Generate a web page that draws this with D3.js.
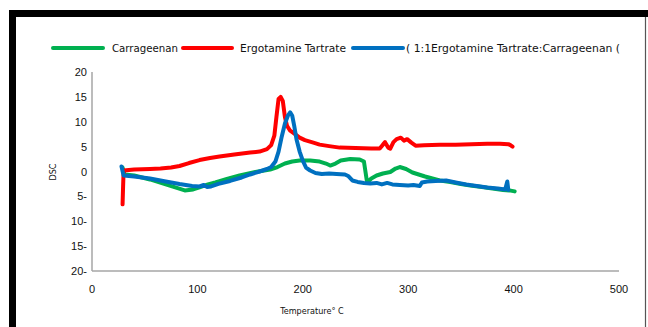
<!DOCTYPE html>
<html><head><meta charset="utf-8">
<script src="https://cdn.jsdelivr.net/npm/d3@7"></script>
<style>body{margin:0;background:#fff}svg{display:block}</style>
</head><body>
<svg id="c" width="648" height="327"></svg>
<script>
const xTicks = [0,100,200,300,400,500];
const yTicks = [20,15,10,5,0,-5,-10,-15,-20];
const yTickLabels = ["20","15","10","5","0","5-","10-","15-","20-"];
const seriesNames = ["Carrageenan","Ergotamine Tartrate","( 1:1Ergotamine Tartrate:Carrageenan  ("];
const seriesColors = ["#00b050","#ff0000","#0070c0"];

const carrageenan = [[29,0.8],[31,-0.6],[40,-0.8],[55,-1.6],[70,-2.6],[79,-3.2],[88,-3.8],[96,-3.6],[102,-3.2],[110,-2.6],[117,-2.2],[128,-1.5],[140,-0.8],[155,-0.1],[169,0.4],[176,0.9],[183,1.6],[190,2.0],[197,2.2],[207,2.2],[216,2.0],[222,1.6],[226,1.2],[231,1.6],[236,2.2],[245,2.5],[254,2.4],[258,2.0],[259,0.6],[261,-2.2],[265,-1.4],[270,-0.8],[276,-0.4],[283,-0.1],[288,0.6],[292,0.9],[298,0.5],[304,-0.2],[310,-0.6],[316,-1.0],[323,-1.4],[330,-1.8],[340,-2.1],[350,-2.5],[359,-2.8],[370,-3.1],[380,-3.4],[390,-3.7],[396,-3.8],[401,-4.0]];
const ergotamine = [[29,-6.6],[29.5,-3],[30,0.2],[40,0.4],[55,0.5],[65,0.6],[75,0.8],[83,1.1],[92,1.7],[102,2.3],[112,2.7],[121,3.0],[135,3.4],[150,3.8],[159,4.0],[166,4.5],[170,5.3],[173,7.2],[175,11],[177,14.6],[179,15.0],[181,14.2],[183,11],[185,9.2],[188,8.2],[192,7.6],[197,6.8],[202,6.3],[210,5.8],[216,5.4],[225,5.1],[235,4.8],[250,4.7],[265,4.6],[273,4.6],[276,5.4],[278,5.9],[281,4.8],[283,4.6],[286,5.9],[289,6.5],[293,6.8],[296,6.2],[299,6.5],[303,5.8],[307,5.2],[315,5.3],[330,5.4],[345,5.4],[360,5.5],[375,5.6],[387,5.6],[395,5.5],[397,5.3],[399,5.0]];
const mixture = [[28,1.0],[30,-0.8],[40,-1.0],[55,-1.4],[70,-2.0],[83,-2.5],[95,-2.9],[102,-3.0],[106,-2.7],[109,-3.1],[113,-3.0],[120,-2.5],[131,-1.9],[142,-1.2],[150,-0.6],[159,0.0],[166,0.5],[170,0.9],[174,2.0],[177,4.0],[180,7.0],[183,9.6],[186,11.3],[188,11.9],[190,11.2],[192,9.0],[194,6.5],[197,4.0],[200,2.2],[203,0.8],[207,0.2],[212,-0.3],[218,-0.5],[225,-0.4],[232,-0.5],[240,-0.6],[243,-0.9],[247,-1.8],[252,-2.1],[258,-2.3],[264,-2.4],[270,-2.3],[275,-2.6],[280,-2.3],[285,-2.6],[292,-2.7],[300,-2.8],[305,-2.7],[311,-2.9],[313,-2.2],[318,-2.0],[326,-1.9],[336,-1.8],[345,-2.2],[355,-2.6],[365,-2.9],[375,-3.2],[385,-3.4],[392,-3.6],[394,-2.0],[395,-3.7]];
const allSeries = [carrageenan, ergotamine, mixture];

const svg = d3.select("#c");
const x = d3.scaleLinear().domain([0,500]).range([92,619]);
const y = d3.scaleLinear().domain([-20,20]).range([271,72]);

// frame
svg.append("rect").attr("x",9).attr("y",10).attr("width",639).attr("height",7).attr("fill","#000");
svg.append("rect").attr("x",9).attr("y",10).attr("width",7).attr("height",317).attr("fill","#000");
svg.append("line").attr("x1",645.5).attr("x2",645.5).attr("y1",17).attr("y2",327).attr("stroke","#555").attr("stroke-width",1.2);

// axes
const tickFont = "'Liberation Sans', Arial, sans-serif";
svg.append("line").attr("x1",x(0)).attr("x2",x(500)).attr("y1",y(-20)).attr("y2",y(-20)).attr("stroke","#a6a6a6").attr("stroke-width",1.5);
svg.append("line").attr("x1",x(0)).attr("x2",x(0)).attr("y1",y(20)).attr("y2",y(-20)).attr("stroke","#a6a6a6").attr("stroke-width",1.5);

svg.selectAll(".xt").data(xTicks).join("text")
  .attr("x",d=>x(d)).attr("y",293).attr("text-anchor","middle")
  .attr("font-family",tickFont).attr("font-size",11).attr("fill","#111").text(d=>d);
svg.selectAll(".yt").data(yTicks).join("text")
  .attr("x",87).attr("y",d=>y(d)+4).attr("text-anchor","end")
  .attr("font-family",tickFont).attr("font-size",11).attr("fill","#111").text((d,i)=>yTickLabels[i]);

const smallFont = "'DejaVu Sans Condensed','Open Sans',sans-serif";
svg.append("text").attr("transform","translate(56,172) rotate(-90)").attr("text-anchor","middle")
  .attr("font-family",smallFont).attr("font-size",9).attr("fill","#111").text("DSC");
svg.append("text").attr("x",312).attr("y",314).attr("text-anchor","middle")
  .attr("font-family",smallFont).attr("font-size",9).attr("fill","#111").text("Temperature° C");

// lines
const line = d3.line().x(d=>x(d[0])).y(d=>y(d[1])).curve(d3.curveLinear);
allSeries.forEach((s,i)=>{
  svg.append("path").datum(s).attr("d",line).attr("fill","none")
    .attr("stroke",seriesColors[i]).attr("stroke-width",4)
    .attr("stroke-linejoin","round").attr("stroke-linecap","round");
});

// legend
const legendItems = [
  {lx:[53,103], tx:112, tl:66},
  {lx:[183,232], tx:240, tl:106},
  {lx:[353,403], tx:406, tl:214}
];
legendItems.forEach((it,i)=>{
  svg.append("line").attr("x1",it.lx[0]).attr("x2",it.lx[1]).attr("y1",48).attr("y2",48)
    .attr("stroke",seriesColors[i]).attr("stroke-width",4).attr("stroke-linecap","round");
  svg.append("text").attr("x",it.tx).attr("y",52)
    .attr("font-family",smallFont).attr("font-size",10).attr("fill","#111")
    .attr("textLength",it.tl).attr("lengthAdjust","spacingAndGlyphs")
    .text(seriesNames[i]);
});
</script>
</body></html>
